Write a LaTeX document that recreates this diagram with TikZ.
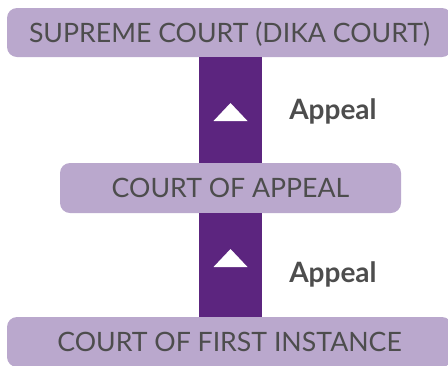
\documentclass[tikz,border=0pt]{standalone}
\usepackage{fontspec}
\setmainfont{Lato}
\usepackage{xcolor}
\usepackage{tikz}
\definecolor{courtfill}{HTML}{BAA8CD}
\definecolor{appealbar}{HTML}{5C257F}
\definecolor{courttext}{HTML}{4D4D4D}

\begin{document}
\begin{tikzpicture}[x=0.75pt, y=-0.75pt,
        court/.style={rectangle, rounded corners=7.5pt, fill=courtfill, inner sep=0pt,
            text=courttext, font=\fontsize{20}{22}\selectfont,
            text height=14.3pt, text depth=0pt, minimum height=37.5pt},
        appealbar/.style={draw=appealbar, line width=47.25pt},
        uptri/.style={fill=white},
        appeallabel/.style={anchor=base west, inner sep=0pt, text=courttext,
            font=\fontsize{21}{23}\selectfont\bfseries}]
        \useasboundingbox (0,0) rectangle (448,365);

        \node[court, minimum width=333.75pt, minimum height=36.75pt] (supreme) at (229.5,32.5) {SUPREME COURT (DIKA COURT)};
        \node[court, minimum width=255.75pt] (appealcourt) at (230.5,188) {COURT OF APPEAL};
        \node[court, minimum width=333.75pt] (first) at (229.5,342) {COURT OF FIRST INSTANCE};

        \draw[appealbar] (supreme.south -| appealcourt.north) -- (appealcourt.north);
        \draw[appealbar] (appealcourt.south) -- (first.north -| appealcourt.south);

        \coordinate (tri1) at (230.5,112);
        \coordinate (tri2) at (230.5,258);
        \fill[uptri] (tri1) +(-17,9) -- +(17,9) -- +(0,-9) -- cycle;
        \fill[uptri] (tri2) +(-17,9) -- +(17,9) -- +(0,-9) -- cycle;

        \node[appeallabel] (appeal1) at (289,119) {Appeal};
        \node[appeallabel] (appeal2) at (289,282) {Appeal};
    \end{tikzpicture}
\end{document}
